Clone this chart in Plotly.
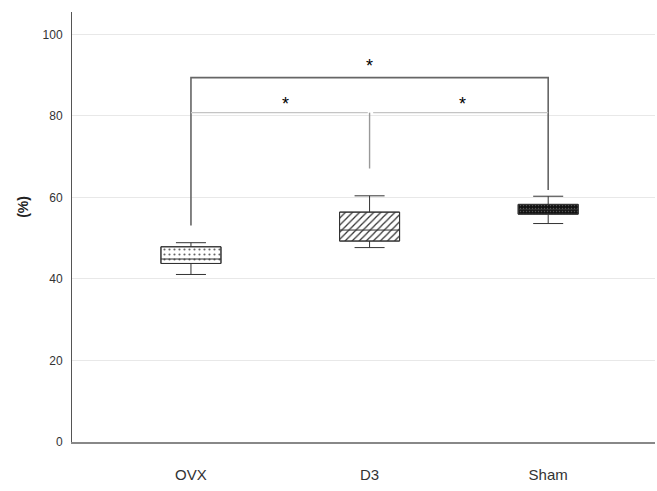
import plotly.graph_objects as go

# ---- data ----
categories = ["OVX", "D3", "Sham"]
lower_whisker = [41.1, 47.7, 53.6]
q1_values = [43.8, 49.3, 55.9]
medians = [44.9, 52.0, 57.0]
q3_values = [47.9, 56.4, 58.3]
upper_whisker = [48.9, 60.4, 60.3]

y_ticks = [0, 20, 40, 60, 80, 100]

# significance brackets (x positions are category indices)
top_bracket_x = [0, 0, 2, 2]
top_bracket_y = [53.1, 89.4, 89.4, 61.8]
low_left_x = [0, 0.99]
low_left_y = [80.8, 80.8]
low_right_x = [1.02, 2]
low_right_y = [80.8, 80.8]
d3_leg_x = [1.0, 1.0]
d3_leg_y = [80.8, 67.1]
star_x = [1.0, 0.53, 1.52]
star_y = [91.9, 82.6, 82.6]
star_text = ["*", "*", "*"]

xpos = list(range(len(categories)))
box_w = 0.336

# box body styles
patterns = [
    dict(shape=".", fgcolor="#666666", bgcolor="white", size=5, solidity=0.15, fillmode="replace"),
    dict(shape="/", fgcolor="#333333", bgcolor="white", size=5, solidity=0.25, fillmode="replace"),
    dict(shape=".", fgcolor="#555555", bgcolor="#111111", size=3, solidity=0.2, fillmode="replace"),
]

fig = go.Figure()

for i in xpos:
    fig.add_trace(go.Bar(
        x=[i],
        base=[q1_values[i]],
        y=[q3_values[i] - q1_values[i]],
        width=box_w,
        marker=dict(
            color=patterns[i]["bgcolor"],
            line=dict(color="#333333", width=1),
            pattern=patterns[i],
        ),
        showlegend=False,
        hoverinfo="skip",
    ))

# box statistics (whiskers, median, outline)
fig.add_trace(go.Box(
    x=xpos,
    q1=q1_values,
    median=medians,
    q3=q3_values,
    lowerfence=lower_whisker,
    upperfence=upper_whisker,
    width=box_w,
    whiskerwidth=0.5,
    fillcolor="rgba(0,0,0,0)",
    line=dict(color="#333333", width=1),
    boxpoints=False,
    showlegend=False,
))

line_dark = dict(color="#666666", width=1.6)
line_light = dict(color="#c4c4c4", width=1.2)

fig.add_trace(go.Scatter(x=top_bracket_x, y=top_bracket_y, mode="lines",
                         line=line_dark, showlegend=False, hoverinfo="skip"))
fig.add_trace(go.Scatter(x=low_left_x, y=low_left_y, mode="lines",
                         line=line_light, showlegend=False, hoverinfo="skip"))
fig.add_trace(go.Scatter(x=low_right_x, y=low_right_y, mode="lines",
                         line=line_light, showlegend=False, hoverinfo="skip"))
fig.add_trace(go.Scatter(x=d3_leg_x, y=d3_leg_y, mode="lines",
                         line=dict(color="#999999", width=1.4),
                         showlegend=False, hoverinfo="skip"))
fig.add_trace(go.Scatter(x=star_x, y=star_y, mode="text", text=star_text,
                         textposition="middle center",
                         textfont=dict(family="Arial, Liberation Sans", size=18, color="black"),
                         showlegend=False, hoverinfo="skip"))

fig.update_layout(
    width=657, height=491,
    margin=dict(l=72, r=2, t=12, b=49),
    plot_bgcolor="white", paper_bgcolor="white",
    barmode="overlay",
    font=dict(family="Arial, Liberation Sans", color="#333333"),
    xaxis=dict(
        range=[-0.666, 2.598],
        tickvals=xpos, ticktext=categories,
        showgrid=False, zeroline=False,
        showline=True, linecolor="#888888", linewidth=1.5,
        ticks="", ticklabelstandoff=18,
        tickfont=dict(size=15, color="#333333"),
    ),
    yaxis=dict(
        range=[0, 105.5],
        tickvals=y_ticks,
        showgrid=True, gridcolor="#e8e8e8", gridwidth=1,
        zeroline=False,
        showline=True, linecolor="#555555", linewidth=1,
        ticks="", ticklabelstandoff=6,
        tickfont=dict(size=12, color="#333333"),
    ),
    annotations=[dict(
        text="<b>(%)</b>", xref="paper", yref="paper",
        x=-0.084, y=0.547, xanchor="center", yanchor="middle",
        textangle=-90, showarrow=False,
        font=dict(size=14, color="#222222"),
    )],
)

fig.write_html("out.html")
